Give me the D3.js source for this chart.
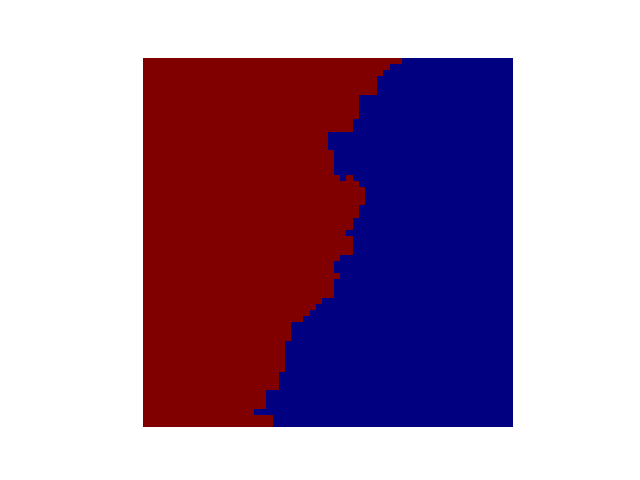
<!DOCTYPE html>
<html>
<head>
<meta charset="utf-8">
<script src="https://cdn.jsdelivr.net/npm/d3@7"></script>
<style>
html,body{margin:0;padding:0;background:#fff;}
svg{display:block;}
</style>
</head>
<body>
<svg id="chart" width="640" height="480"></svg>
<script>
// Grid size (60 x 60 cells), values: 1 = high (dark red), 0 = low (dark blue)
const nRows = 60;
const nCols = 60;
// Each row as run lengths, starting with value 1 and alternating 1/0
const rowRuns = [
  [42,18],[40,20],[39,21],[38,22],[38,22],[38,22],[35,25],[35,25],[35,25],[35,25],
  [34,26],[34,26],[30,30],[30,30],[30,30],[31,29],[31,29],[31,29],[31,29],[32,1,1,26],
  [35,25],[36,24],[36,24],[36,24],[35,25],[35,25],[34,26],[34,26],[33,27],[34,26],
  [34,26],[34,26],[32,28],[31,29],[31,29],[32,28],[31,29],[31,29],[31,29],[29,31],
  [28,32],[27,33],[26,34],[24,36],[24,36],[24,36],[23,37],[23,37],[23,37],[23,37],
  [23,37],[22,38],[22,38],[22,38],[20,40],[20,40],[20,40],[18,42],[21,39],[21,39]
];
const colorLow = "#000080";
const colorHigh = "#800000";

// Horizontal runs of equal-valued cells, built from the data
const segs = [];
rowRuns.forEach((runs, r) => {
  let c = 0;
  runs.forEach((len, i) => {
    segs.push({row: r, start: c, end: c + len, value: i % 2 === 0 ? 1 : 0});
    c += len;
  });
});

const svg = d3.select("#chart");
const plotLeft = 143.2, plotRight = 512.8, plotTop = 57.6, plotBottom = 427.2;
const x = d3.scaleLinear().domain([0, nCols]).range([plotLeft, plotRight]);
const y = d3.scaleLinear().domain([0, nRows]).range([plotTop, plotBottom]);
const color = d3.scaleOrdinal().domain([0, 1]).range([colorLow, colorHigh]);

svg.append("g")
  .attr("shape-rendering", "crispEdges")
  .selectAll("rect")
  .data(segs)
  .join("rect")
  .attr("x", d => Math.round(x(d.start)))
  .attr("y", d => Math.round(y(d.row)))
  .attr("width", d => Math.round(x(d.end)) - Math.round(x(d.start)))
  .attr("height", d => Math.round(y(d.row + 1)) - Math.round(y(d.row)))
  .attr("fill", d => color(d.value));
</script>
</body>
</html>
